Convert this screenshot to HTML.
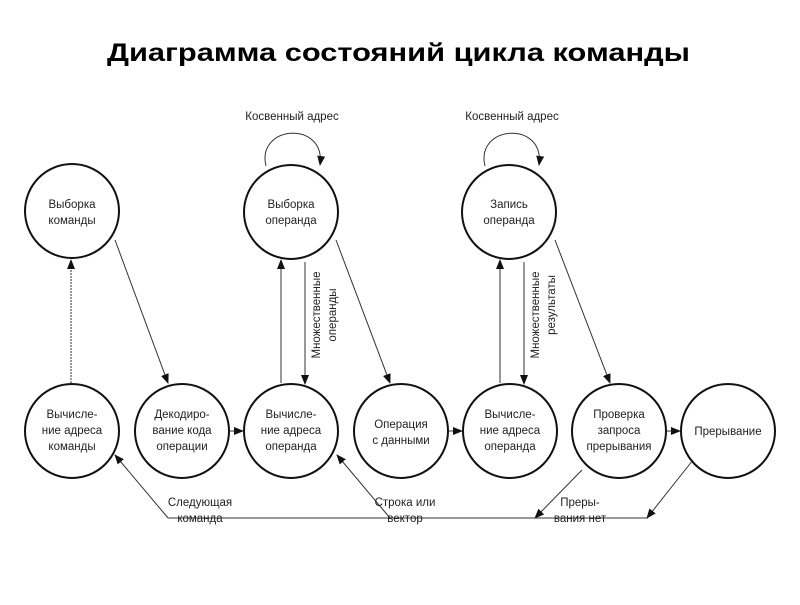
<!DOCTYPE html>
<html><head><meta charset="utf-8"><style>
body{margin:0;background:#fff;width:800px;height:600px;overflow:hidden}
svg text{font-family:"Liberation Sans",sans-serif;fill:#222}
</style></head><body>
<svg width="800" height="600" viewBox="0 0 800 600">
<defs><marker id="a" markerWidth="10" markerHeight="10" refX="9" refY="5" orient="auto" markerUnits="userSpaceOnUse"><path d="M0,1 L10,5 L0,9Z" fill="#111"/></marker></defs>
<text x="107" y="61" font-size="25" font-weight="bold" textLength="583" lengthAdjust="spacingAndGlyphs" style="fill:#000">Диаграмма состояний цикла команды</text>
<g fill="none" stroke="#111" stroke-width="2">
<circle cx="72" cy="211" r="47"/><circle cx="291" cy="212" r="47"/><circle cx="509" cy="212" r="47"/>
<circle cx="72" cy="431" r="47"/><circle cx="182" cy="431" r="47"/><circle cx="291" cy="431" r="47"/><circle cx="401" cy="431" r="47"/><circle cx="510" cy="431" r="47"/><circle cx="619" cy="431" r="47"/><circle cx="728" cy="431" r="47"/>
</g>
<g fill="none" stroke="#333" stroke-width="1" marker-end="url(#a)">
<line x1="71" y1="383" x2="71" y2="260" stroke-dasharray="2,1"/>
<line x1="115" y1="240" x2="168" y2="383"/>
<line x1="230" y1="431" x2="243" y2="431"/>
<line x1="281" y1="383" x2="281" y2="260"/>
<line x1="305" y1="262" x2="305" y2="384"/>
<line x1="336" y1="240" x2="390" y2="383"/>
<line x1="449" y1="431" x2="462" y2="431"/>
<line x1="500" y1="383" x2="500" y2="260"/>
<line x1="524" y1="262" x2="524" y2="384"/>
<line x1="555" y1="240" x2="610" y2="383"/>
<line x1="667" y1="431" x2="680" y2="431"/>
<path d="M266,166 C256,125 326,120 320,165"/>
<path d="M485,166 C475,125 545,120 539,165"/>
<line x1="168" y1="518" x2="115" y2="455"/>
<line x1="390" y1="518" x2="337" y2="455"/>
<line x1="582" y1="470" x2="535" y2="518"/>
<line x1="693" y1="460" x2="647" y2="518"/>
</g>
<line x1="168" y1="518" x2="648" y2="518" stroke="#333" stroke-width="1"/>
<g font-size="11.5" text-anchor="middle">
<text x="292" y="120">Косвенный адрес</text><text x="512" y="120">Косвенный адрес</text>
<text x="72" y="208">Выборка</text><text x="72" y="224">команды</text>
<text x="291" y="208">Выборка</text><text x="291" y="224">операнда</text>
<text x="509" y="208">Запись</text><text x="509" y="224">операнда</text>
<text x="72" y="418">Вычисле-</text><text x="72" y="434">ние адреса</text><text x="72" y="450">команды</text>
<text x="182" y="418">Декодиро-</text><text x="182" y="434">вание кода</text><text x="182" y="450">операции</text>
<text x="291" y="418">Вычисле-</text><text x="291" y="434">ние адреса</text><text x="291" y="450">операнда</text>
<text x="401" y="428">Операция</text><text x="401" y="444">с данными</text>
<text x="510" y="418">Вычисле-</text><text x="510" y="434">ние адреса</text><text x="510" y="450">операнда</text>
<text x="619" y="418">Проверка</text><text x="619" y="434">запроса</text><text x="619" y="450">прерывания</text>
<text x="728" y="435">Прерывание</text>
<text x="200" y="506">Следующая</text><text x="200" y="522">команда</text>
<text x="405" y="506">Строка или</text><text x="405" y="522">вектор</text>
<text x="580" y="506">Преры-</text><text x="580" y="522">вания нет</text>
<text transform="translate(320,315) rotate(-90)">Множественные</text>
<text transform="translate(336,315) rotate(-90)">операнды</text>
<text transform="translate(539,315) rotate(-90)">Множественные</text>
<text transform="translate(555,305) rotate(-90)">результаты</text>
</g>
</svg>
</body></html>
